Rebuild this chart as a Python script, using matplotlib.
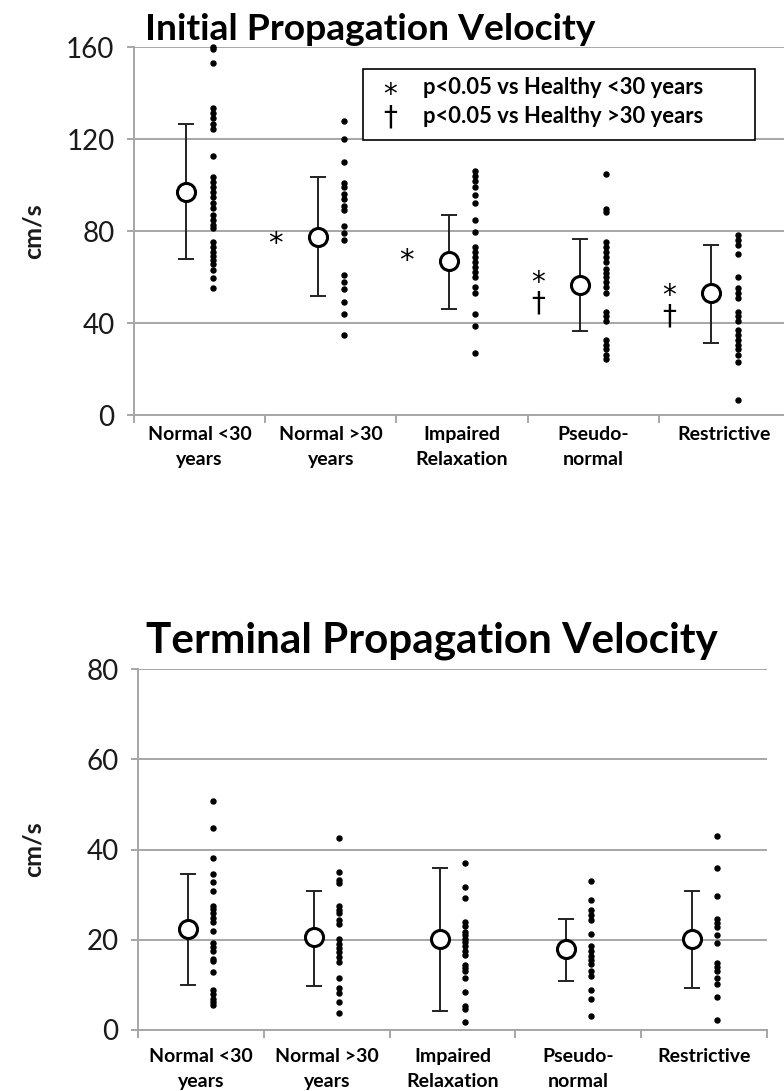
import matplotlib
matplotlib.use("Agg")
import matplotlib.pyplot as plt
from matplotlib.patches import Rectangle
import numpy as np

plt.rcParams['font.family'] = ['Lato', 'DejaVu Sans']

categories = ["Normal <30\nyears", "Normal >30\nyears", "Impaired\nRelaxation",
              "Pseudo-\nnormal", "Restrictive"]

# ---- Initial propagation velocity (cm/s) ----
init_g1 = [160, 159, 153.2, 133.3, 131.2, 129.0, 126.5, 124.2, 112.6, 103.6, 101.4, 99.3,
           97.1, 94.9, 92.3, 89.9, 87.0, 84.8, 82.6, 81.2, 75.4, 73.2, 71.0, 69.1, 67.4,
           65.7, 63.0, 59.4, 55.1]
init_g2 = [128, 120, 110, 101, 99, 96, 94, 91, 89, 82, 79, 76, 61, 58, 55, 49, 44, 35]
init_g3 = [106.2, 104, 101.9, 99, 95.8, 92.2, 84.6, 79.6, 73.1, 70.9, 68.8, 66.6, 64.5,
           62.3, 60.1, 55.8, 52.9, 44, 38.5, 26.8]
init_g4 = [104.7, 89.6, 88.2, 75.3, 73.1, 71, 68.8, 66.6, 63.3, 61.6, 59.9, 58, 55.8, 52.9,
           45, 42.9, 40.7, 32.8, 30.6, 28.5, 26.3, 24.2]
init_g5 = [78.1, 76, 73.8, 70.2, 59.9, 55.1, 52.9, 50.8, 45, 42.9, 40.7, 37.1, 35, 32.8,
           30.6, 28.5, 26.3, 23, 6.6]
init_mean = [96.8, 77.5, 67.0, 56.5, 53.2]
init_upper = [126.5, 103.5, 87.0, 76.4, 74.1]
init_lower = [67.7, 51.6, 46.2, 36.4, 31.4]

# ---- Terminal propagation velocity (cm/s) ----
term_g1 = [50.8, 44.7, 38.1, 34.6, 32.8, 30.9, 27.5, 26.8, 26.0, 24.9, 23.9, 21.9, 19.2,
           18.5, 17.4, 15.8, 15.3, 12.8, 8.8, 8.0, 6.9, 6.2, 5.5]
term_g2 = [42.6, 35, 33.3, 32.6, 27.4, 26.7, 26, 24.4, 23.4, 20.2, 19, 18.2, 17.3, 16.2,
           15.1, 11.5, 9.2, 8.3, 6.2, 3.7]
term_g3 = [37, 31.7, 29.2, 23.9, 23.1, 21.8, 21, 20.2, 19.5, 18.6, 17.6, 16.7, 14.5, 13.8,
           13, 11.6, 8.5, 5.3, 4.6, 1.8]
term_g4 = [33, 28.7, 26.5, 25.4, 24.4, 21.2, 18.6, 17.6, 16.5, 15.5, 14.6, 13, 12, 8.9,
           6.8, 3.2]
term_g5 = [43, 36, 29.8, 24.5, 23.7, 22.9, 21.1, 19.2, 14.8, 14, 13, 11.5, 10.3, 7.4, 2.2]
term_mean = [22.4, 20.6, 20.2, 18.0, 20.2]
term_upper = [34.5, 30.8, 35.8, 24.5, 30.8]
term_lower = [10.0, 9.7, 4.2, 10.8, 9.4]

# significance markers: star only (group, y) and star over dagger (group, y_star, y_dagger)
sig_star_only = [(1, 76.0), (2, 68.7)]
sig_star_dagger = [(3, 59.6, 50.0), (4, 53.5, 44.3)]

legend_lines = ["p<0.05 vs Healthy <30 years", "p<0.05 vs Healthy >30 years"]

GRID = '#a6a6a6'
W, H = 784, 1091
fig = plt.figure(figsize=(W / 100, H / 100), dpi=100)


def px_axes(l, r, t, b):
    return fig.add_axes([l / W, 1 - b / H, (r - l) / W, (b - t) / H])


def style_axes(ax, ymax, ystep, xpad):
    ax.set_xlim(-0.5, 4.5)
    ax.set_ylim(0, ymax)
    ax.set_yticks(np.arange(0, ymax + 1, ystep))
    for s in ['top', 'right']:
        ax.spines[s].set_visible(False)
    for s in ['left', 'bottom']:
        ax.spines[s].set_color(GRID)
        ax.spines[s].set_linewidth(1.4)
    ax.yaxis.grid(True, color=GRID, linewidth=1.4)
    ax.set_axisbelow(True)
    ax.tick_params(axis='y', colors=GRID, labelcolor='#1a1a1a', labelsize=20,
                   length=5, width=1.4, pad=9)
    ax.set_xticks(range(5))
    ax.set_xticklabels(categories, fontweight='bold', fontsize=14, va='top',
                       linespacing=1.55)
    ax.tick_params(axis='x', length=0, pad=xpad)
    ax.set_xticks(np.arange(-0.5, 5.0, 1.0), minor=True)
    ax.tick_params(axis='x', which='minor', length=6, width=1.4, color=GRID)
    ax.set_ylabel('cm/s', fontsize=18, fontweight='bold', color='#1a1a1a')


def draw_groups(ax, groups, means, upper, lower):
    for i, vals in enumerate(groups):
        ax.plot(np.full(len(vals), i + 0.1), vals, 'o', color='black',
                markersize=3.6, zorder=3, clip_on=False)
    x = np.arange(5) - 0.1
    m = np.array(means)
    yerr = [m - np.array(lower), np.array(upper) - m]
    ax.errorbar(x, m, yerr=yerr, fmt='none', ecolor='#222222', elinewidth=1.4,
                capsize=6, capthick=1.4, zorder=3)
    ax.plot(x, m, 'o', markersize=13, markerfacecolor='white',
            markeredgecolor='black', markeredgewidth=2.2, zorder=4)


def star(ax, x, y, size=21, z=6):
    # asterisk glyph sits high in the em box: shift baseline down so its centre is at y
    ax.annotate('*', (x, y), xytext=(0, -0.42 * size), textcoords='offset points',
                fontsize=size, ha='center', va='baseline', family=['DejaVu Sans'],
                zorder=z)


def star_dagger(ax, x, y_star, y_dagger, linespacing, shift_pt, size=20, z=6):
    ymid = (y_star + y_dagger) / 2
    ax.annotate('*\n\u2020', (x, ymid), xytext=(0, shift_pt), textcoords='offset points',
                fontsize=size, ha='center', va='center', family=['DejaVu Sans'],
                linespacing=linespacing, zorder=z)


# ----- Top chart -----
ax1 = px_axes(134, 790, 47, 415)
style_axes(ax1, 160, 40, 8)
ax1.yaxis.set_label_coords(-0.136, 0.5)
draw_groups(ax1, [init_g1, init_g2, init_g3, init_g4, init_g5],
            init_mean, init_upper, init_lower)
for g, y in sig_star_only:
    star(ax1, g - 0.42, y)
for g, ys, yd in sig_star_dagger:
    star_dagger(ax1, g - 0.42, ys, yd, 0.66, -3)

ax1.add_patch(Rectangle((1.248, 119.6), 4.233 - 1.248, 150.4 - 119.6, facecolor='white',
                        edgecolor='black', linewidth=1.2, zorder=5, clip_on=False))
star_dagger(ax1, 1.454, 142.6, 129.6, 0.75, -3.2)
ax1.text(1.706, 142.6, legend_lines[0], fontsize=15.8, fontweight='bold',
         ha='left', va='center', zorder=6)
ax1.text(1.706, 129.6, legend_lines[1], fontsize=15.8, fontweight='bold',
         ha='left', va='center', zorder=6)

fig.text(145 / W, 1 - 40 / H, 'Initial Propagation Velocity', fontsize=26.8,
         fontweight='bold', ha='left', va='baseline')

# ----- Bottom chart -----
ax2 = px_axes(138, 767, 669, 1030)
style_axes(ax2, 80, 20, 13)
ax2.yaxis.set_label_coords(-0.148, 0.5)
draw_groups(ax2, [term_g1, term_g2, term_g3, term_g4, term_g5],
            term_mean, term_upper, term_lower)

fig.text(432 / W, 1 - 652 / H, 'Terminal Propagation Velocity', fontsize=30.4,
         fontweight='bold', ha='center', va='baseline')

fig.savefig('out.png', dpi=100)
